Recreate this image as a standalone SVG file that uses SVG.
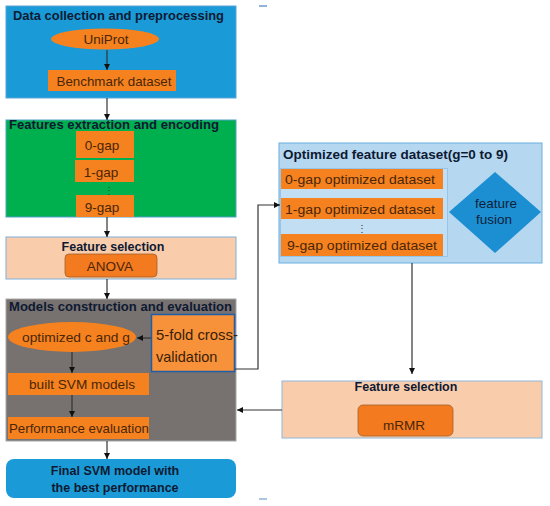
<svg xmlns="http://www.w3.org/2000/svg" width="550" height="506" viewBox="0 0 550 506">
<defs>
<marker id="ah" viewBox="0 0 10 10" refX="10" refY="5" markerWidth="6" markerHeight="6" orient="auto" markerUnits="userSpaceOnUse"><path d="M0,0 L10,5 L0,10 z" fill="#111"/></marker>
<style>
.title{font-family:"Liberation Sans",Arial,sans-serif;font-weight:bold;font-size:12.5px;fill:#0e1a33}
.lbl{font-family:"Liberation Sans",Arial,sans-serif;font-size:13.5px;fill:#4a2608}
.org{fill:#f5821f}
.con{fill:none;stroke:#333;stroke-width:1.2}
</style>
</defs>
<rect width="550" height="506" fill="#fff"/>
<g id="marks">
<rect x="259" y="5" width="8" height="2" fill="#8fb4d9"/>
<rect x="259" y="498" width="8" height="2" fill="#a9c5e0"/>
</g>
<g id="data-collection">
<rect x="6" y="6" width="230" height="92" fill="#1a9bd7" stroke="#5ba4d6" stroke-width="1"/>
<text class="title" x="13" y="20" textLength="211" lengthAdjust="spacingAndGlyphs">Data collection and preprocessing</text>
<ellipse cx="105" cy="39" rx="54" ry="10.5" class="org"/>
<text class="lbl" x="106" y="44" text-anchor="middle" font-size="14">UniProt</text>
<rect x="48" y="70" width="128" height="21" class="org"/>
<text class="lbl" x="114" y="85.5" text-anchor="middle" textLength="115" lengthAdjust="spacingAndGlyphs">Benchmark dataset</text>
</g>
<g id="feature-extraction">
<rect x="6" y="120" width="230" height="97" fill="#00b04f" stroke="#4fa0c8" stroke-width="1"/>
<text class="title" x="9" y="129" textLength="210" lengthAdjust="spacingAndGlyphs">Features extraction and encoding</text>
<rect x="76" y="131" width="58" height="27" class="org"/>
<text class="lbl" x="102" y="150" text-anchor="middle" font-size="14">0-gap</text>
<rect x="75" y="160" width="59" height="22" class="org"/>
<text class="lbl" x="101" y="177" text-anchor="middle" font-size="14">1-gap</text>
<text x="109" y="194" font-family="Liberation Sans,sans-serif" font-size="10" fill="#1a3a1a" text-anchor="middle">⋮</text>
<rect x="76" y="195" width="58" height="22" class="org"/>
<text class="lbl" x="102" y="211.5" text-anchor="middle" font-size="14">9-gap</text>
</g>
<g id="feature-selection-anova">
<rect x="6" y="237" width="230" height="42" fill="#f9cdac" stroke="#7fb0d8" stroke-width="1"/>
<text class="title" x="113" y="251" text-anchor="middle">Feature selection</text>
<rect x="65" y="254" width="92" height="23" rx="4" fill="#f47a20" stroke="#a0612e" stroke-width="0.8"/>
<text class="lbl" x="110" y="270.5" text-anchor="middle">ANOVA</text>
</g>
<g id="models">
<rect x="6" y="299" width="230" height="142" fill="#777170" stroke="#a7a7a7" stroke-width="1"/>
<text class="title" x="9" y="311" textLength="223" lengthAdjust="spacingAndGlyphs">Models construction and evaluation</text>
<ellipse cx="72" cy="337" rx="64" ry="15" class="org"/>
<text class="lbl" x="76" y="342" text-anchor="middle" textLength="108" lengthAdjust="spacingAndGlyphs">optimized c and g</text>
<rect x="8" y="373" width="141" height="22" class="org"/>
<text class="lbl" x="82" y="389" text-anchor="middle" textLength="106" lengthAdjust="spacingAndGlyphs">built SVM models</text>
<rect x="8" y="417" width="141" height="22" class="org"/>
<text class="lbl" x="79" y="433" text-anchor="middle" textLength="140" lengthAdjust="spacingAndGlyphs">Performance evaluation</text>
</g>
<g id="cross-validation">
<rect x="151.5" y="314.5" width="83" height="57" fill="#f7923a" stroke="#1f5ea8" stroke-width="1.5"/>
<text x="156" y="340" font-family="Liberation Sans,Arial,sans-serif" font-size="14.5" fill="#3a1e08" textLength="82" lengthAdjust="spacingAndGlyphs">5-fold cross-</text>
<text x="156" y="362" font-family="Liberation Sans,Arial,sans-serif" font-size="14.5" fill="#3a1e08">validation</text>
</g>
<g id="final">
<rect x="6" y="459" width="230" height="39" rx="8" fill="#1a9bd7"/>
<text class="title" x="115" y="475" text-anchor="middle" font-size="13">Final SVM model with</text>
<text class="title" x="115" y="492" text-anchor="middle" font-size="13">the best performance</text>
</g>
<g id="optimized-dataset">
<rect x="279" y="143" width="263" height="120" fill="#b5d7f0" stroke="#6aaee0" stroke-width="1"/>
<text class="title" x="283" y="159" textLength="225" lengthAdjust="spacingAndGlyphs">Optimized feature dataset(g=0 to 9)</text>
<rect x="280.5" y="168.5" width="167" height="88" fill="#c2def3" stroke="#8ec0e6" stroke-width="0.8"/>
<rect x="281" y="169" width="162" height="20" class="org"/>
<text class="lbl" x="285" y="183.5" textLength="150" lengthAdjust="spacingAndGlyphs">0-gap optimized dataset</text>
<rect x="281" y="198" width="162" height="21" class="org"/>
<text class="lbl" x="285" y="213.5" textLength="150" lengthAdjust="spacingAndGlyphs">1-gap optimized dataset</text>
<text x="362" y="232" font-family="Liberation Sans,sans-serif" font-size="10" fill="#333" text-anchor="middle">⋮</text>
<rect x="281" y="234" width="162" height="22" class="org"/>
<text class="lbl" x="287" y="250" textLength="150" lengthAdjust="spacingAndGlyphs">9-gap optimized dataset</text>
<polygon points="495,172 541,212 495,253 449,212" fill="#1b8fd2"/>
<text x="496" y="208" font-family="Liberation Sans,Arial,sans-serif" font-size="13.5" fill="#0f1f3a" text-anchor="middle">feature</text>
<text x="494" y="224" font-family="Liberation Sans,Arial,sans-serif" font-size="13.5" fill="#0f1f3a" text-anchor="middle">fusion</text>
</g>
<g id="feature-selection-mrmr">
<rect x="282" y="381" width="260" height="57" fill="#f9cdac" stroke="#8fb8dc" stroke-width="1"/>
<text class="title" x="406" y="391" text-anchor="middle">Feature selection</text>
<rect x="358" y="405" width="95" height="31" rx="5" fill="#f47a20" stroke="#a0612e" stroke-width="0.8"/>
<text class="lbl" x="404" y="430" text-anchor="middle">mRMR</text>
</g>
<g id="connectors">
<line class="con" x1="107" y1="50" x2="107" y2="70" marker-end="url(#ah)"/>
<line class="con" x1="107" y1="98" x2="107" y2="120" marker-end="url(#ah)"/>
<line class="con" x1="107" y1="217" x2="107" y2="237" marker-end="url(#ah)"/>
<line class="con" x1="107" y1="279" x2="107" y2="299" marker-end="url(#ah)"/>
<line class="con" x1="151" y1="338" x2="137" y2="338" marker-end="url(#ah)"/>
<line class="con" x1="72" y1="352" x2="72" y2="373" marker-end="url(#ah)"/>
<line class="con" x1="72" y1="395" x2="72" y2="417" marker-end="url(#ah)"/>
<line class="con" x1="107" y1="441" x2="107" y2="459" marker-end="url(#ah)"/>
<polyline class="con" points="235,369 258,369 258,205 280,205" marker-end="url(#ah)" stroke="#555"/>
<line class="con" x1="412" y1="263" x2="412" y2="374" marker-end="url(#ah)"/>
<line class="con" x1="282" y1="410" x2="237" y2="410" marker-end="url(#ah)"/>
</g>
</svg>
